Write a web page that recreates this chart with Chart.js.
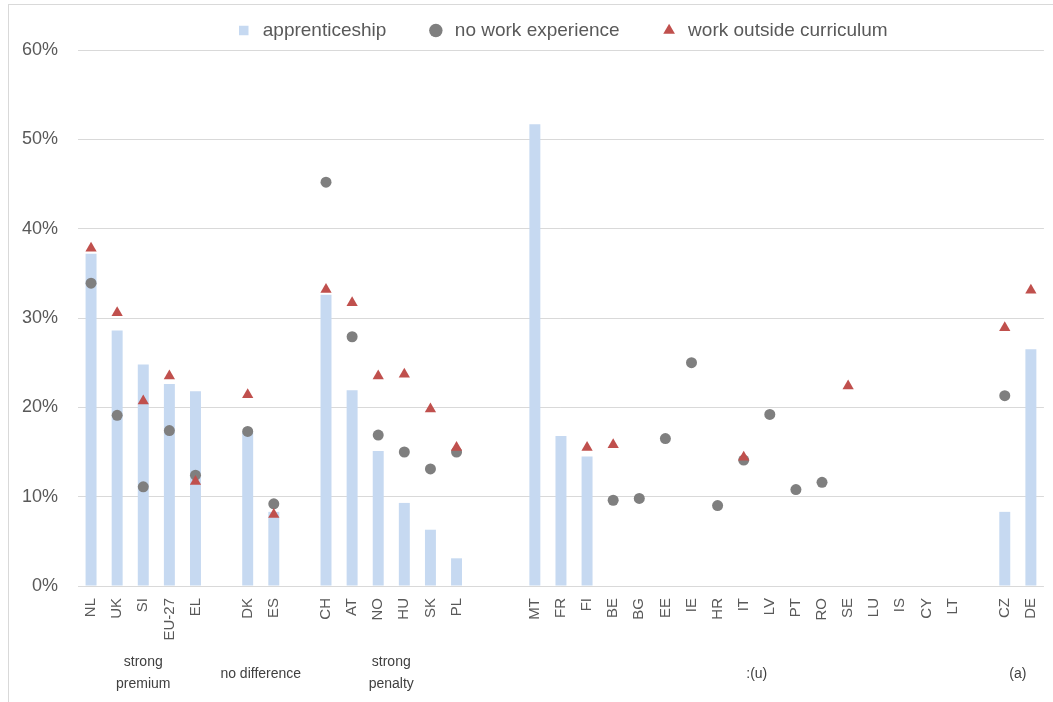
<!DOCTYPE html>
<html>
<head>
<meta charset="utf-8">
<script src="https://cdn.jsdelivr.net/npm/chart.js@4.4.1/dist/chart.umd.min.js"></script>
<style>
  body { margin: 0; background: #fff; overflow: hidden; }
  .frame { position: absolute; left: 8px; top: 4px; width: 1100px; height: 800px; border: 1px solid #d9d9d9; }
  canvas { position: absolute; left: 0; top: 0; }
</style>
</head>
<body>
<div class="frame"></div>
<canvas id="chart" width="1053" height="702"></canvas>
<script>
// categorieen ('' = lege kolom tussen de groepen)
const countries = ["NL", "UK", "SI", "EU-27", "EL", "", "DK", "ES", "", "CH", "AT", "NO", "HU", "SK", "PL", "", "",
    "MT", "FR", "FI", "BE", "BG", "EE", "IE", "HR", "IT", "LV", "PT", "RO", "SE", "LU", "IS", "CY", "LT", "", "CZ", "DE"];

// waarden in procent
const apprenticeship = [37.2, 28.6, 24.8, 22.6, 21.8, null, 17.3, 8.3, null, 32.6, 21.9, 15.1, 9.3, 6.3, 3.1, null, null,
    51.7, 16.8, 14.5, null, null, null, null, null, null, null, null, null, null, null, null, null, null, null, 8.3, 26.5];
const noWorkExperience = [33.9, 19.1, 11.1, 17.4, 12.4, null, 17.3, 9.2, null, 45.2, 27.9, 16.9, 15.0, 13.1, 15.0, null, null,
    null, null, null, 9.6, 9.8, 16.5, 25.0, 9.0, 14.1, 19.2, 10.8, 11.6, null, null, null, null, null, null, 21.3, null];
const workOutside = [37.8, 30.6, 20.7, 23.5, 11.7, null, 21.4, 8.0, null, 33.2, 31.7, 23.5, 23.7, 19.8, 15.5, null, null,
    null, null, 15.5, 15.8, null, null, null, null, 14.4, null, null, null, 22.4, null, null, null, null, null, 28.9, 33.1];

// groepen onder de as: tekstregels, eerste en laatste categorie-index
const groupNames = [["strong", "premium"], ["no difference"], ["strong", "penalty"], [":(u)"], ["(a)"]];
const groupFrom = [0, 6, 9, 17, 35];
const groupTo = [4, 7, 14, 34, 36];

const yTicks = [0, 10, 20, 30, 40, 50, 60];

const fontFamily = "'Liberation Sans', Arial, sans-serif";
const textColour = "#595959";

// tekent de groepnamen onder de landcodes
const groupLabelPlugin = {
    id: "groupLabels",
    afterDraw(chart) {
        const ctx = chart.ctx;
        const x = chart.scales.x;
        const bottom = chart.chartArea.bottom;
        ctx.save();
        ctx.font = "14px " + fontFamily;
        ctx.fillStyle = "#404040";
        ctx.textAlign = "center";
        ctx.textBaseline = "middle";
        for (let i = 0; i < groupNames.length; i++) {
            const cx = (x.getPixelForValue(groupFrom[i]) + x.getPixelForValue(groupTo[i])) / 2;
            const lines = groupNames[i];
            if (lines.length == 2) {
                ctx.fillText(lines[0], cx, bottom + 76);
                ctx.fillText(lines[1], cx, bottom + 98);
            } else {
                ctx.fillText(lines[0], cx, bottom + 88);
            }
        }
        ctx.restore();
    }
};

new Chart(document.getElementById("chart"), {
    type: "bar",
    data: {
        labels: countries,
        datasets: [{
            type: "bar",
            label: "apprenticeship",
            data: apprenticeship,
            backgroundColor: "#C6D9F1",
            borderWidth: 0,
            barPercentage: 0.42,
            categoryPercentage: 1,
            pointStyle: "rect",
            order: 3
        }, {
            type: "line",
            label: "no work experience",
            data: noWorkExperience,
            showLine: false,
            pointStyle: "circle",
            pointRadius: 5.5,
            pointBackgroundColor: "#7F7F7F",
            pointBorderColor: "#7F7F7F",
            backgroundColor: "#7F7F7F",
            borderColor: "#7F7F7F",
            pointBorderWidth: 0,
            order: 2
        }, {
            type: "line",
            label: "work outside curriculum",
            data: workOutside,
            showLine: false,
            pointStyle: "triangle",
            pointRadius: 6.5,
            pointBackgroundColor: "#C0504D",
            pointBorderColor: "#C0504D",
            backgroundColor: "#C0504D",
            borderColor: "#C0504D",
            pointBorderWidth: 0,
            order: 1
        }]
    },
    options: {
        responsive: false,
        animation: false,
        events: [],
        layout: { padding: { left: 8, right: 3, top: -19, bottom: 0 } },
        plugins: {
            tooltip: { enabled: false },
            legend: {
                position: "top",
                fullSize: false,
                labels: {
                    usePointStyle: true,
                    boxHeight: 9.5,
                    padding: 40,
                    color: textColour,
                    font: { family: fontFamily, size: 19 },
                    sort: (a, b) => a.datasetIndex - b.datasetIndex
                }
            }
        },
        scales: {
            x: {
                grid: { display: false },
                border: { display: false },
                afterFit: scale => { scale.height = 116; },
                ticks: {
                    autoSkip: false,
                    minRotation: 90,
                    maxRotation: 90,
                    padding: 4,
                    color: textColour,
                    font: { family: fontFamily, size: 15 }
                }
            },
            y: {
                min: 0,
                max: 60,
                afterFit: scale => { scale.width = 70; },
                afterBuildTicks: scale => { scale.ticks = yTicks.map(v => ({ value: v })); },
                grid: { color: "#D9D9D9", lineWidth: 1, drawTicks: false },
                border: { display: false },
                ticks: {
                    padding: 20,
                    color: textColour,
                    font: { family: fontFamily, size: 18 },
                    callback: v => v + "%"
                }
            }
        }
    },
    plugins: [groupLabelPlugin]
});
</script>
</body>
</html>
